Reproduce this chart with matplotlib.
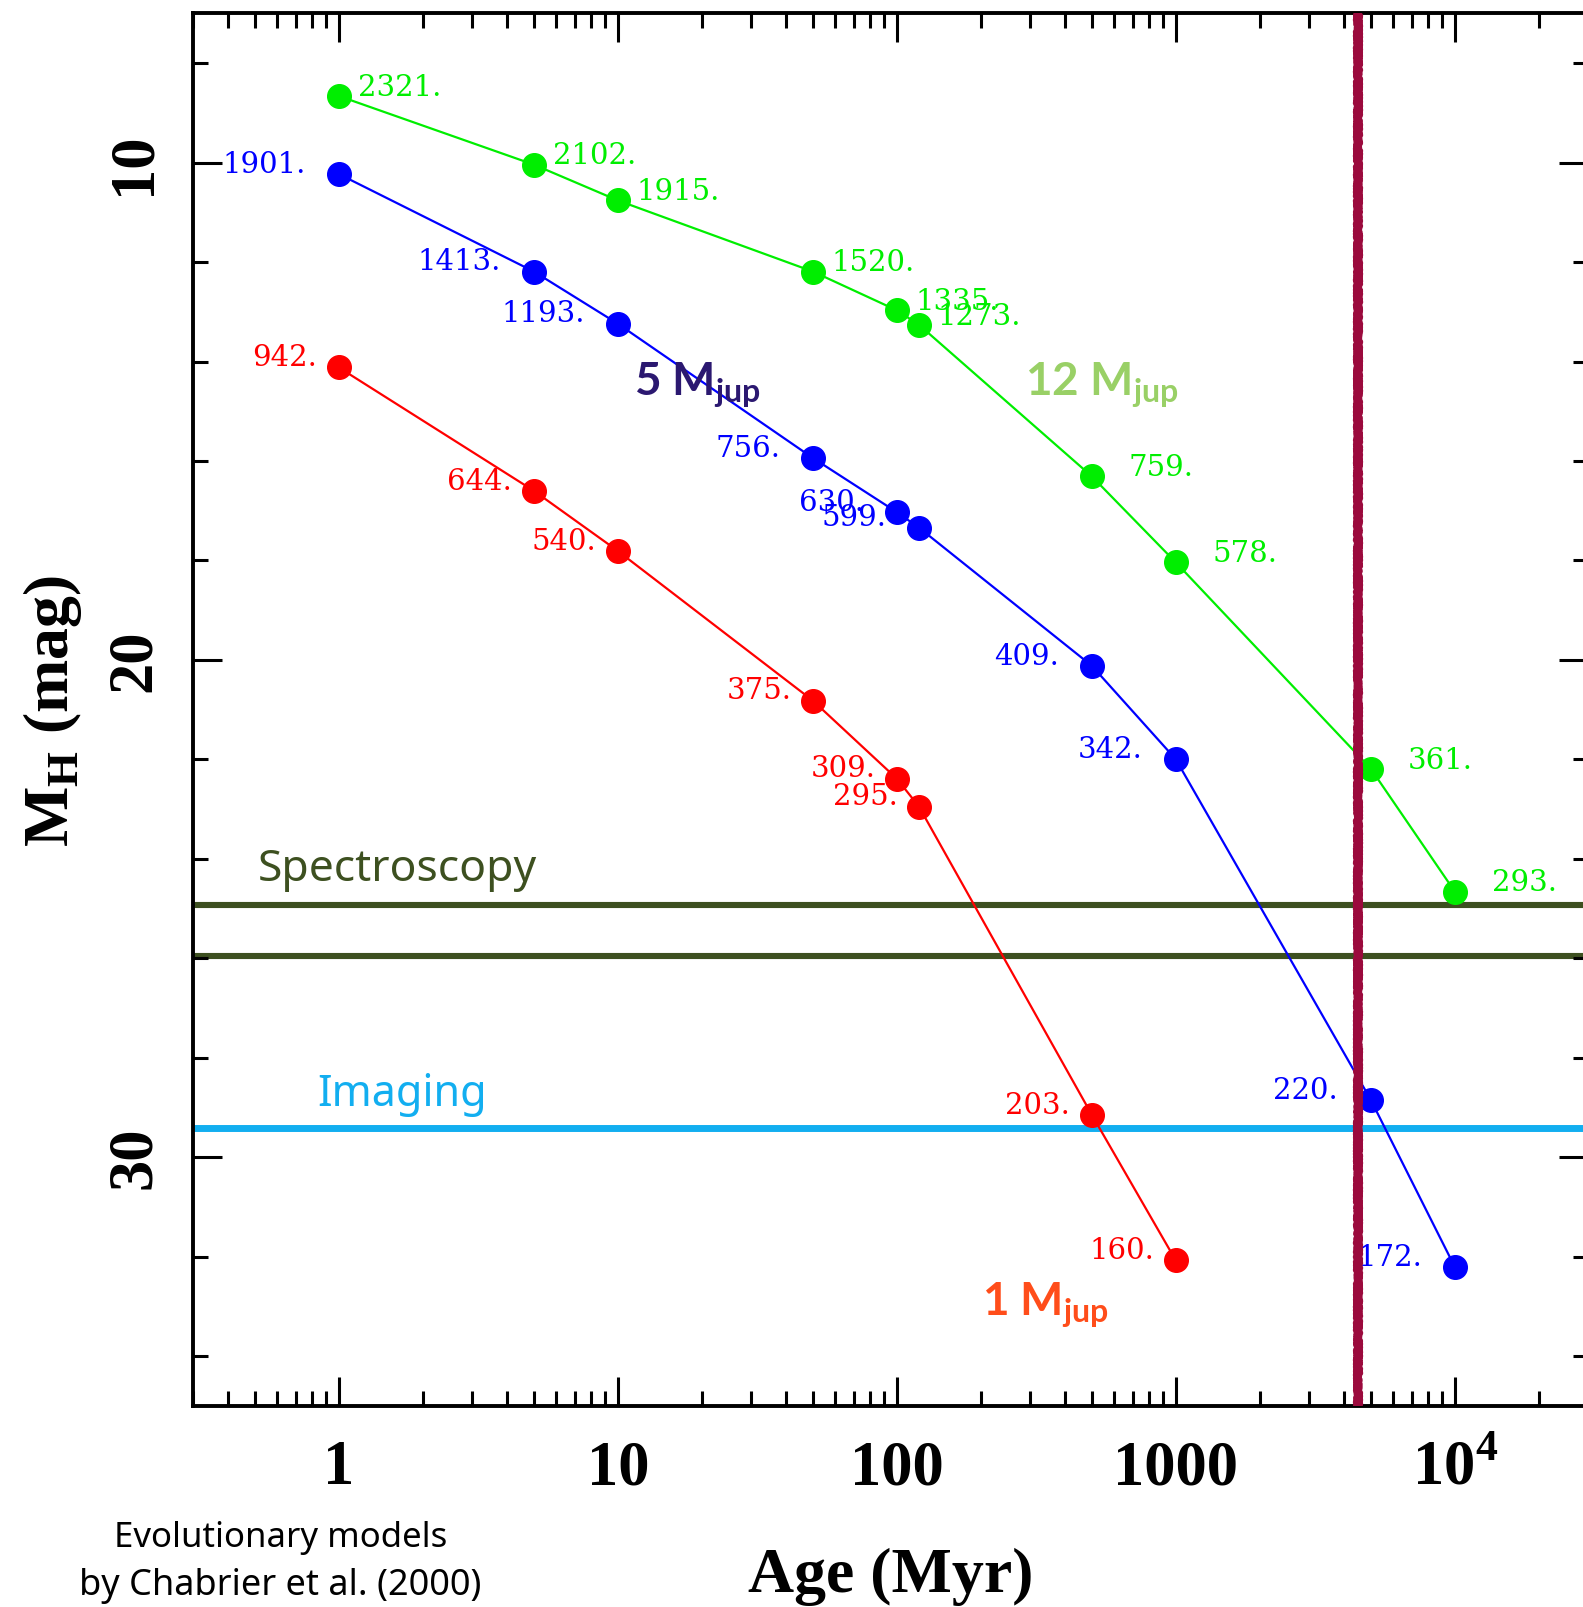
import matplotlib.pyplot as plt
from matplotlib.ticker import LogLocator, MultipleLocator, NullFormatter

# Ages (Myr) of the model grid
ages = [1, 5, 10, 50, 100, 120, 500, 1000, 5000, 10000]

# Absolute H magnitude for each mass
mh_12 = [8.66, 10.04, 10.76, 12.19, 12.97, 13.26, 16.31, 18.04, 22.19, 24.66]
mh_5 = [10.23, 12.19, 13.24, 15.94, 17.03, 17.34, 20.12, 22.00, 28.85, 32.21]
mh_1 = [14.12, 16.60, 17.81, 20.82, 22.39, 22.95, 29.15, 32.08]

# Effective temperatures (K) written next to each point
teff_12 = [2321, 2102, 1915, 1520, 1335, 1273, 759, 578, 361, 293]
teff_5 = [1901, 1413, 1193, 756, 630, 599, 409, 342, 220, 172]
teff_1 = [942, 644, 540, 375, 309, 295, 203, 160]

# Detection limits and age of the Sun
spectro_limits = [24.93, 25.96]
imaging_limit = 29.42
sun_age = 4500

xtick_values = [1, 10, 100, 1000, 10000]
xtick_labels = ['1', '10', '100', '1000', r'10$^{\mathregular{4}}$']
ytick_values = [10, 20, 30]

fig = plt.figure(figsize=(15.83, 16.08), dpi=100)
ax = fig.add_axes([0.1219, 0.1252, 0.8812, 0.8658])

ax.set_xscale('log')
ax.set_xlim(0.3, 3e4)
ax.set_ylim(35, 7)

# detection limits
for lim in spectro_limits:
    ax.axhline(lim, color='#3d5020', lw=4.4, zorder=1)
ax.axhline(imaging_limit, color='#12aef0', lw=5, zorder=1)

series = [
    (mh_12, teff_12, '#00ee00', 73.5, 6.6),
    (mh_5, teff_5, '#0000ff', -23.6, 7.4),
    (mh_1, teff_1, '#ff0000', -15.5, 7.4),
]
for mags, temps, color, dx, dy in series:
    x = ages[:len(mags)]
    ax.plot(x, mags, '-o', color=color, lw=1.6, ms=17, zorder=3)
    for xi, yi, t in zip(x, mags, temps):
        ax.annotate(f'{t}.', (xi, yi), xytext=(dx, dy), textcoords='offset points',
                    ha='right', va='center', color=color, fontsize=21,
                    family='DejaVu Serif', zorder=4)

# age of the Sun
vline = ax.axvline(sun_age, color='#9b0a3d', lw=5.8, zorder=5)
vline.set_sketch_params(scale=1.2, length=4, randomness=2)

# mass labels
mass_font = dict(fontsize=33, fontweight='bold', family='Lato', ha='left', va='center')
ax.text(11.4, 14.45, r'5 M$_{\mathregular{jup}}$', color='#2b1870', **mass_font)
ax.text(289, 14.45, r'12 M$_{\mathregular{jup}}$', color='#99d066', **mass_font)
ax.text(202, 32.95, r'1 M$_{\mathregular{jup}}$', color='#ff4d1a', **mass_font)
ax.text(0.511, 24.2, 'Spectroscopy', color='#3d5020', fontsize=32,
        family='Noto Sans', ha='left', va='center')
ax.text(0.84, 28.74, 'Imaging', color='#12aef0', fontsize=31,
        family='Noto Sans', ha='left', va='center')

# ticks
ax.xaxis.set_major_locator(LogLocator(base=10, numticks=20))
ax.xaxis.set_minor_locator(LogLocator(base=10, subs=range(2, 10), numticks=20))
ax.xaxis.set_minor_formatter(NullFormatter())
ax.set_xticks(xtick_values, xtick_labels)
ax.set_yticks(ytick_values)
ax.yaxis.set_minor_locator(MultipleLocator(2))

ax.tick_params(which='both', direction='in', top=True, right=True, width=2.2)
ax.tick_params(which='major', length=21)
ax.tick_params(which='minor', length=11)
ax.tick_params(axis='x', which='major', pad=24)
ax.tick_params(axis='y', which='major', pad=21, labelrotation=90)
for lab in ax.get_xticklabels() + ax.get_yticklabels():
    lab.set_fontfamily('Liberation Serif')
    lab.set_fontweight('bold')
    lab.set_fontsize(45)
for lab in ax.get_yticklabels():
    lab.set_va('center')

for sp in ax.spines.values():
    sp.set_linewidth(2.8)

ax.set_xlabel('Age (Myr)', fontsize=46, fontweight='bold',
              family='Liberation Serif', va='center')
ax.set_ylabel(r'M$_{\mathregular{H}}$ (mag)', fontsize=46, fontweight='bold',
              family='Liberation Serif', va='center')
ax.xaxis.set_label_coords(0.5, -0.122)
ax.yaxis.set_label_coords(-0.101, 0.5)

fig.text(0.177, 0.0435, 'Evolutionary models', fontsize=25, family='Noto Sans',
         ha='center', va='center')
fig.text(0.177, 0.0137, 'by Chabrier et al. (2000)', fontsize=26, family='Noto Sans',
         ha='center', va='center')

fig.savefig('out.png', dpi=100)
